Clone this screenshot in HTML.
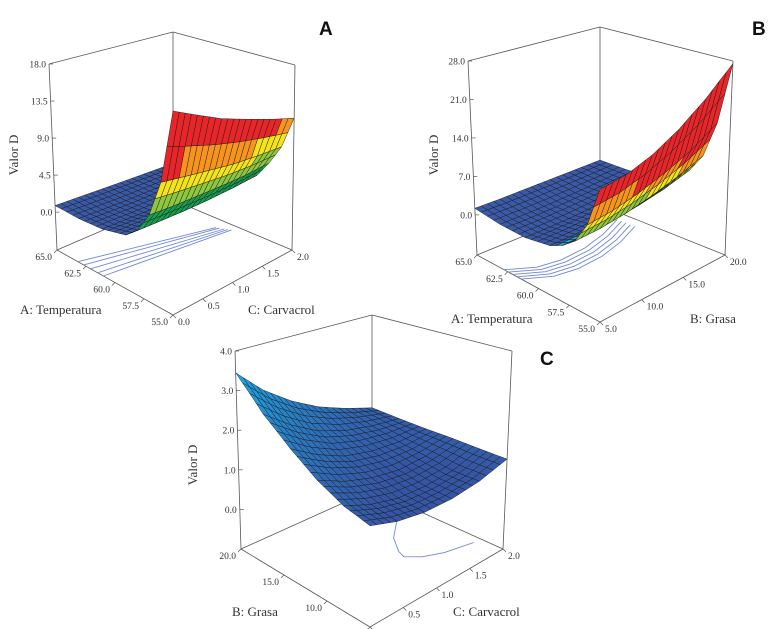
<!DOCTYPE html>
<html><head><meta charset="utf-8"><style>
html,body{margin:0;padding:0;background:#fff;}
svg{display:block;}
text{font-family:"Liberation Serif",serif;fill:#333;}
.ttl{font-family:"Liberation Sans",sans-serif;font-weight:bold;font-size:19px;fill:#111;}
</style></head><body>
<svg id="chart" width="780" height="629" viewBox="0 0 780 629"></svg>
<script>
// ---------- data ----------
const tempLevels = [55, 56, 57, 58, 59, 61, 63, 65];
const carvLevels = [0, 0.4, 0.8, 1.2, 1.6, 2.0];
const grasaLevels = [5, 8, 11, 14, 17, 20];
// Panel A: Valor D vs Temperatura (rows) x Carvacrol (cols)
const zA = [
  [18, 16.5, 15, 13.8, 12.6, 11.5],
  [9.5, 9, 8.5, 8, 7.7, 7.5],
  [5.2, 5.0, 4.9, 4.8, 4.8, 5.0],
  [2.8, 2.7, 2.6, 2.6, 2.7, 2.9],
  [1.6, 1.5, 1.4, 1.4, 1.5, 1.6],
  [0.9, 0.8, 0.7, 0.7, 0.8, 1.0],
  [0.7, 0.6, 0.5, 0.5, 0.5, 0.6],
  [0.8, 0.7, 0.6, 0.5, 0.4, 0.3]
];
// Panel B: Valor D vs Temperatura (rows) x Grasa (cols)
const zB = [
  [15, 15.5, 17, 19.5, 23, 27.5],
  [8, 8.5, 9.5, 11, 13, 16],
  [4.2, 4.4, 5, 6, 7.4, 9.2],
  [2.4, 2.5, 2.8, 3.4, 4.3, 5.7],
  [1.3, 1.3, 1.5, 2, 2.7, 3.6],
  [0.5, 0.5, 0.6, 0.9, 1.3, 1.8],
  [0.6, 0.6, 0.7, 0.9, 1.2, 1.6],
  [1.2, 1.2, 1.3, 1.4, 1.5, 1.6]
];
// Panel C: Valor D vs Grasa (rows) x Carvacrol (cols)
const zC = [
  [1.25, 1.05, 0.95, 0.95, 1.05, 1.27],
  [1.4, 1.15, 1.0, 0.98, 1.05, 1.28],
  [1.7, 1.4, 1.2, 1.1, 1.15, 1.3],
  [2.15, 1.75, 1.45, 1.3, 1.25, 1.3],
  [2.7, 2.2, 1.8, 1.55, 1.4, 1.32],
  [3.45, 2.8, 2.3, 1.9, 1.6, 1.35]
];
const ticksA_temp = [55, 57.5, 60, 62.5, 65];
const ticksA_carv = [0, 0.5, 1.0, 1.5, 2.0];
const ticksA_z = [0, 4.5, 9, 13.5, 18];
const ticksB_grasa = [5, 10, 15, 20];
const ticksB_z = [0, 7, 14, 21, 28];
const ticksC_grasa = [5, 10, 15, 20];
const ticksC_z = [0, 1, 2, 3, 4];
// floor contours
const contourA_start = [[63.2, 0], [62.7, 0], [62.1, 0], [61.5, 0], [61.0, 0]];
const contourA_end = [[60.5, 1.82], [60.3, 1.84], [60.0, 1.86], [59.8, 1.88], [59.6, 1.9]];
const contourB_temp = [62.8, 61.8, 61.5, 61.6, 62.1, 62.9];
const contourB_grasa = [5, 7.5, 10, 13, 16, 18.9];
const contourC_grasa = [15, 13, 11.2, 10.3, 9.2, 8.3, 7.6];
const contourC_carv = [1.72, 1.4, 1.24, 1.2, 1.33, 1.55, 1.9];

// ---------- rendering ----------
const svg = document.getElementById('chart');
const NS = 'http://www.w3.org/2000/svg';
function mk(tag, attrs, parent) {
  const e = document.createElementNS(NS, tag);
  for (const k in attrs) e.setAttribute(k, attrs[k]);
  (parent || svg).appendChild(e);
  return e;
}
function lerp(a, b, t) { return [a[0] + (b[0] - a[0]) * t, a[1] + (b[1] - a[1]) * t]; }
function bil(F, L, R, B, u, v) {
  const p = lerp(F, L, u), q = lerp(R, B, u);
  return lerp(p, q, v);
}
function makeProj(box) {
  return function (u, v, w) {
    const b = bil(box.bF, box.bL, box.bR, box.bB, u, v);
    const t = bil(box.tF, box.tL, box.tR, box.tB, u, v);
    return lerp(b, t, w);
  };
}
function interp(levels, val) {
  let i = 0;
  while (i < levels.length - 2 && val > levels[i + 1]) i++;
  return [i, (val - levels[i]) / (levels[i + 1] - levels[i])];
}
function gridVal(grid, rl, cl, r, c) {
  const [i, ti] = interp(rl, r), [j, tj] = interp(cl, c);
  const a = grid[i][j] + (grid[i][j + 1] - grid[i][j]) * tj;
  const b = grid[i + 1][j] + (grid[i + 1][j + 1] - grid[i + 1][j]) * tj;
  return a + (b - a) * ti;
}
function colorRainbow(z) {
  if (z < 2) return '#3a5aa8';
  if (z < 3) return '#27a3c9';
  if (z < 5) return '#17a050';
  if (z < 7) return '#8dc63f';
  if (z < 9) return '#f2e31a';
  if (z < 11) return '#f7941d';
  return '#e8262a';
}
function colorBlue(z) {
  const t = Math.max(0, Math.min(1, (z - 1.1) / 2.35));
  const a = [53, 86, 165], b = [28, 170, 232];
  return 'rgb(' + a.map((x, k) => Math.round(x + (b[k] - x) * t)).join(',') + ')';
}
function f1(n) { return n.toFixed(1); }

function panel(cfg) {
  const g = mk('g', {});
  
  
  const P = makeProj(cfg.box);
  const U = cfg.uFn, V = cfg.vFn, W = cfg.wFn;
  const lines = mk('g', { stroke: '#555', 'stroke-width': 0.8, fill: 'none' }, g);
  
  
  const seg = (a, b) => mk('line', { x1: a[0], y1: a[1], x2: b[0], y2: b[1] }, lines);
  const c = {
    bF: P(0, 0, 0), bL: P(1, 0, 0), bR: P(0, 1, 0), bB: P(1, 1, 0),
    tL: P(1, 0, 1), tR: P(0, 1, 1), tB: P(1, 1, 1)
  };
  seg(c.bL, c.bF); seg(c.bF, c.bR); seg(c.bL, c.bB); seg(c.bR, c.bB);
  seg(c.bL, c.tL); seg(c.bR, c.tR); seg(c.bB, c.tB);
  seg(c.tL, c.tB); seg(c.tB, c.tR);
  const cg = mk('g', { stroke: '#6f86d8', 'stroke-width': 0.9, fill: 'none' }, g);
  
  
  cfg.contours.forEach(pts => {
    const d = pts.map((p, k) => { const s = P(U(p[0]), V(p[1]), 0); return (k ? 'L' : 'M') + s[0].toFixed(1) + ' ' + s[1].toFixed(1); }).join(' ');
    const pe = mk('path', { d: d }, cg);
    
    
  });
  const N = 20;
  const sg = mk('g', { stroke: '#1a1a1a', 'stroke-width': 0.45, 'stroke-linejoin': 'round' }, g);
  
  
  const rl = cfg.rowLevels, cl = cfg.colLevels, grid = cfg.grid;
  const r0 = rl[0], r1 = rl[rl.length - 1], c0 = cl[0], c1 = cl[cl.length - 1];
  const quads = [];
  for (let i = 0; i < N; i++) for (let j = 0; j < N; j++) {
    const corners = [[i, j], [i + 1, j], [i + 1, j + 1], [i, j + 1]].map(([a, b]) => {
      const rv = r0 + (r1 - r0) * a / N, cv = c0 + (c1 - c0) * b / N;
      const z = gridVal(grid, rl, cl, rv, cv);
      return { s: P(U(rv), V(cv), W(z)), z: z };
    });
    const zAvg = corners.reduce((s, q) => s + q.z, 0) / 4;
    quads.push({ corners, zAvg, depth: (U(r0 + (r1 - r0) * (i + 0.5) / N)) + V(c0 + (c1 - c0) * (j + 0.5) / N) });
  }
  quads.sort((a, b) => b.depth - a.depth);
  quads.forEach(q => {
    const pts = q.corners.map(k => k.s[0].toFixed(1) + ',' + k.s[1].toFixed(1)).join(' ');
    const p = mk('polygon', { points: pts, fill: cfg.color(q.zAvg) }, sg);
    
    
  });
  const tg = mk('g', { 'font-size': 9.5 }, g);
  
  
  cfg.uTicks.forEach(t => {
    const s = P(U(t), 0, 0);
    mk('line', { x1: s[0], y1: s[1], x2: s[0] - 3, y2: s[1] + 3, stroke: '#555', 'stroke-width': 0.7 }, tg);
    const tx = mk('text', { x: s[0] - 5, y: s[1] + 10, 'text-anchor': 'end' }, tg);
    tx.textContent = f1(t);
    
    
  });
  cfg.vTicks.forEach(t => {
    const s = P(0, V(t), 0);
    mk('line', { x1: s[0], y1: s[1], x2: s[0] + 3, y2: s[1] + 3, stroke: '#555', 'stroke-width': 0.7 }, tg);
    const tx = mk('text', { x: s[0] + 5, y: s[1] + 10, 'text-anchor': 'start' }, tg);
    tx.textContent = f1(t);
    
    
  });
  cfg.zTicks.forEach(t => {
    const s = P(1, 0, W(t));
    mk('line', { x1: s[0], y1: s[1], x2: s[0] + 4, y2: s[1], stroke: '#555', 'stroke-width': 0.7 }, tg);
    const tx = mk('text', { x: s[0] - 3, y: s[1] + 3.5, 'text-anchor': 'end' }, tg);
    tx.textContent = f1(t);
    
    
  });
  const lt = mk('text', { x: cfg.uTitle[0], y: cfg.uTitle[1], 'font-size': 13 }, g);
  lt.textContent = cfg.uLabel;
  
  
  const rt = mk('text', { x: cfg.vTitle[0], y: cfg.vTitle[1], 'font-size': 13 }, g);
  rt.textContent = cfg.vLabel;
  
  
  const zt = mk('text', { x: 0, y: 0, 'font-size': 13, 'text-anchor': 'middle', transform: 'translate(' + cfg.zTitle[0] + ',' + cfg.zTitle[1] + ') rotate(-90)' }, g);
  zt.textContent = 'Valor D';
  
  
  const pl = mk('text', { x: cfg.letter[0], y: cfg.letter[1], class: 'ttl' }, g);
  pl.textContent = cfg.letterText;
  
  
}

panel({
  name: 'panel-a',
  box: { bF: [173, 315], bL: [57, 250], bR: [292, 250], bB: [173, 200], tF: [173, 111], tL: [49, 64], tR: [295, 65], tB: [173, 32] },
  uFn: t => (t - 55) / 10, vFn: c => c / 2, wFn: z => (z + 4.6) / 22.6,
  grid: zA, rowLevels: tempLevels, colLevels: carvLevels, color: colorRainbow,
  uTicks: ticksA_temp, vTicks: ticksA_carv, zTicks: ticksA_z,
  contours: contourA_start.map((s, k) => [s, contourA_end[k]]),
  uLabel: 'A: Temperatura', vLabel: 'C: Carvacrol',
  uTitle: [20, 314], vTitle: [248, 314], zTitle: [18, 155],
  letter: [319, 35], letterText: 'A'
});
panel({
  name: 'panel-b',
  box: { bF: [600, 322], bL: [477, 255], bR: [725, 255], bB: [600, 205], tF: [600, 112], tL: [468, 61], tR: [733, 61], tB: [600, 27] },
  uFn: t => (t - 55) / 10, vFn: b => (b - 5) / 15, wFn: z => (z + 7.3) / 35.3,
  grid: zB, rowLevels: tempLevels, colLevels: grasaLevels, color: colorRainbow,
  uTicks: ticksA_temp, vTicks: ticksB_grasa, zTicks: ticksB_z,
  contours: [0, 1, 2, 3, 4].map(k => contourB_temp.map((t, i) => [t - 0.35 * k, contourB_grasa[i]])),
  uLabel: 'A: Temperatura', vLabel: 'B: Grasa',
  uTitle: [451, 323], vTitle: [690, 323], zTitle: [438, 155],
  letter: [752, 35], letterText: 'B'
});
panel({
  name: 'panel-c',
  box: { bF: [370, 627], bL: [241, 549], bR: [503, 549], bB: [372, 490], tF: [370, 402], tL: [235, 351], tR: [512, 351], tB: [372, 315] },
  uFn: b => (b - 5) / 15, vFn: c => c / 2, wFn: z => (z + 1) / 5,
  grid: zC, rowLevels: grasaLevels, colLevels: carvLevels, color: colorBlue,
  uTicks: ticksC_grasa, vTicks: ticksA_carv, zTicks: ticksC_z,
  contours: [contourC_grasa.map((b, i) => [b, contourC_carv[i]])],
  uLabel: 'B: Grasa', vLabel: 'C: Carvacrol',
  uTitle: [232, 616], vTitle: [453, 616], zTitle: [197, 465],
  letter: [540, 365], letterText: 'C'
});
</script>
</body></html>
